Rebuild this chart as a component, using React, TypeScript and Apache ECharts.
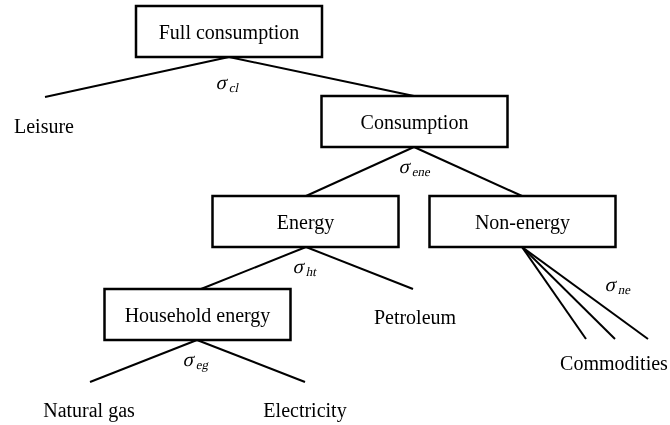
import React, { useEffect, useRef } from "react";
import * as echarts from "echarts";

// Diagram nodes (in a 670 x 425 diagram space, y grows downward)
const nodeNames = [
  "Full consumption",
  "Consumption",
  "Energy",
  "Non-energy",
  "Household energy",
  "Leisure",
  "Petroleum",
  "Natural gas",
  "Electricity",
  "Commodities",
];
const nodeX = [229, 414.5, 305.5, 522.5, 197.5, 44, 415, 89, 305, 614];
const nodeY = [31.5, 121.5, 221.5, 221.5, 314.5, 126, 317, 410, 410, 363];
const nodeBoxed = [1, 1, 1, 1, 1, 0, 0, 0, 0, 0];

// Edges: start and end points
const edgeX1 = [229, 229, 414, 414, 306, 306, 522, 522, 522, 197, 197];
const edgeY1 = [57, 57, 147, 147, 247, 247, 247, 247, 247, 340, 340];
const edgeX2 = [45, 414, 306, 522, 201, 413, 586, 615, 648, 90, 305];
const edgeY2 = [97, 96, 196, 196, 289, 289, 339, 339, 339, 382, 382];

// Elasticity labels
const sigmaSubs = ["cl", "ene", "ht", "ne", "eg"];
const sigmaX = [230, 413, 307, 619, 197];
const sigmaY = [83, 167, 267, 285, 360];

const FONT = "Liberation Serif";
const BOX_W = 186;
const BOX_H = 51;

export default function App() {
  const ref = useRef<HTMLDivElement>(null);
  useEffect(() => {
    if (!ref.current) return;
    const chart = echarts.init(ref.current, null, { renderer: "svg" });
    const nodeData = nodeNames.map((_, i) => [nodeX[i], nodeY[i], nodeBoxed[i]]);
    const edgeData = edgeX1.map((_, i) => [edgeX1[i], edgeY1[i], edgeX2[i], edgeY2[i]]);
    const sigmaData = sigmaSubs.map((_, i) => [sigmaX[i], sigmaY[i]]);
    chart.setOption({
      animation: false,
      grid: { left: 0, right: 0, top: 0, bottom: 0 },
      xAxis: { type: "value", min: 0, max: 670, show: false },
      yAxis: { type: "value", min: 0, max: 425, inverse: true, show: false },
      series: [
        {
          type: "custom",
          coordinateSystem: "cartesian2d",
          data: edgeData,
          z: 1,
          renderItem: (params: any, api: any) => {
            const a = api.coord([api.value(0), api.value(1)]);
            const b = api.coord([api.value(2), api.value(3)]);
            return {
              type: "line",
              shape: { x1: a[0], y1: a[1], x2: b[0], y2: b[1] },
              style: { stroke: "#000", lineWidth: 2 },
            };
          },
        },
        {
          type: "custom",
          coordinateSystem: "cartesian2d",
          data: nodeData,
          z: 2,
          renderItem: (params: any, api: any) => {
            const p = api.coord([api.value(0), api.value(1)]);
            const boxed = api.value(2) === 1;
            if (!boxed) return { type: "group", children: [] };
            return {
              type: "rect",
              shape: { x: p[0] - BOX_W / 2, y: p[1] - BOX_H / 2, width: BOX_W, height: BOX_H },
              style: { fill: "#fff", stroke: "#000", lineWidth: 2.5 },
            };
          },
        },
        {
          type: "custom",
          coordinateSystem: "cartesian2d",
          data: nodeData,
          z: 3,
          renderItem: (params: any, api: any) => {
            const i = params.dataIndex;
            const p = api.coord([api.value(0), api.value(1)]);
            const name = nodeNames[i];
            return {
              type: "text",
              x: p[0],
              y: p[1] - 10,
              style: {
                text: name,
                align: "center",
                fontSize: 20,
                fontFamily: FONT,
                fill: "#000",
              },
            };
          },
        },
        {
          type: "custom",
          coordinateSystem: "cartesian2d",
          data: sigmaData,
          z: 4,
          renderItem: (params: any, api: any) => {
            const i = params.dataIndex;
            const p = api.coord([api.value(0), api.value(1)]);
            return {
              type: "group",
              children: [
                {
                  type: "text",
                  x: p[0] - 11,
                  y: p[1] - 11,
                  skewX: -0.2,
                  style: {
                    text: "σ",
                    fontSize: 20,
                    fontFamily: FONT,
                    fill: "#000",
                  },
                },
                {
                  type: "text",
                  x: p[0] + 1,
                  y: p[1] - 2,
                  skewX: -0.2,
                  style: {
                    text: sigmaSubs[i],
                    fontSize: 13,
                    fontFamily: FONT,
                    fill: "#000",
                  },
                },
              ],
            };
          },
        },
      ],
    });
    return () => chart.dispose();
  }, []);
  return <div ref={ref} style={{ position: "fixed", left: 0, top: 0, width: 670, height: 425 }} />;
}
